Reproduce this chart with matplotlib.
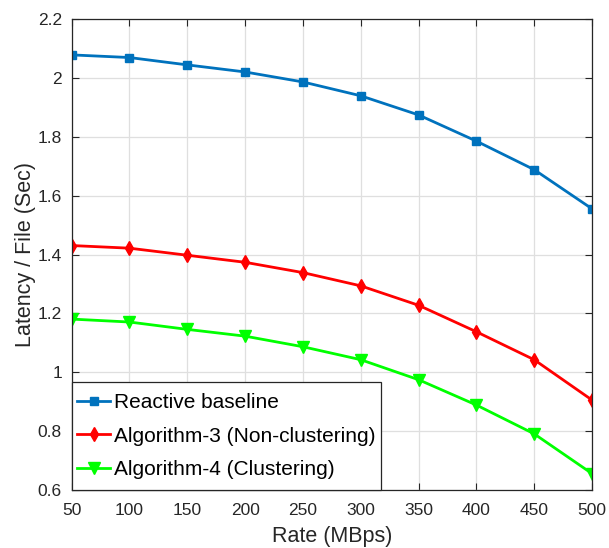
import matplotlib
matplotlib.use('Agg')
from matplotlib import pyplot as plt
from matplotlib.path import Path

plt.rcParams['font.family'] = ['Liberation Sans', 'DejaVu Sans']

# data
rate = [50, 100, 150, 200, 250, 300, 350, 400, 450, 500]
reactive = [2.079, 2.070, 2.045, 2.021, 1.987, 1.940, 1.875, 1.786, 1.689, 1.556]
alg3 = [1.431, 1.422, 1.398, 1.374, 1.339, 1.294, 1.228, 1.138, 1.043, 0.906]
alg4 = [1.181, 1.171, 1.146, 1.123, 1.087, 1.043, 0.975, 0.889, 0.791, 0.656]

labels = ["Reactive baseline", "Algorithm-3 (Non-clustering)", "Algorithm-4 (Clustering)"]

fig = plt.figure(figsize=(6.09, 5.48), dpi=100)
ax = fig.add_axes([0.1177, 0.1058, 0.972 - 0.1177, 0.9648 - 0.1058])

ax.plot(rate, reactive, color='#0072BD', lw=2, marker='s', ms=6, label=labels[0])
ax.plot(rate, alg3, color='#FF0000', lw=2, marker='d', ms=7, label=labels[1])
ax.plot(rate, alg4, color='#00FF00', lw=2, marker='v', ms=8, label=labels[2])

ax.set_xlim(50, 500)
ax.set_ylim(0.6, 2.2)
ax.set_xticks(rate)
ax.set_yticks([0.6, 0.8, 1, 1.2, 1.4, 1.6, 1.8, 2, 2.2])
ax.set_yticklabels(['0.6', '0.8', '1', '1.2', '1.4', '1.6', '1.8', '2', '2.2'])

ax.grid(True, color='#dfdfdf', lw=0.9)
ax.set_axisbelow(True)
ax.tick_params(direction='in', top=True, right=True, labelsize=12.5,
               colors='#262626', length=5)
ax.tick_params(axis='x', pad=9.5)
ax.tick_params(axis='y', pad=7)
for s in ax.spines.values():
    s.set_color('#262626')
    s.set_linewidth(0.9)

ax.set_xlabel('Rate (MBps)', fontsize=15.5, color='#262626', labelpad=5.5)
ax.set_ylabel('Latency / File (Sec)', fontsize=15.5, color='#262626', labelpad=1.5)


# legend frame with more room above and below than at the sides (MATLAB look)
def tall_box(x0, y0, width, height, mutation_size):
    e = 0.27 * mutation_size
    return Path([(x0, y0 - e), (x0 + width, y0 - e), (x0 + width, y0 + height + e),
                 (x0, y0 + height + e), (x0, y0 - e)], closed=True)


leg = ax.legend(loc='lower left', bbox_to_anchor=(0, 5.6 / 472), fontsize=15,
                borderaxespad=0, fancybox=False, framealpha=1, edgecolor='#262626',
                handlelength=1.6, handletextpad=0.2, labelspacing=0.7, borderpad=0.25)
leg.get_frame().set_boxstyle(tall_box)
leg.get_frame().set_linewidth(0.9)

plt.savefig('out.png', dpi=100)
